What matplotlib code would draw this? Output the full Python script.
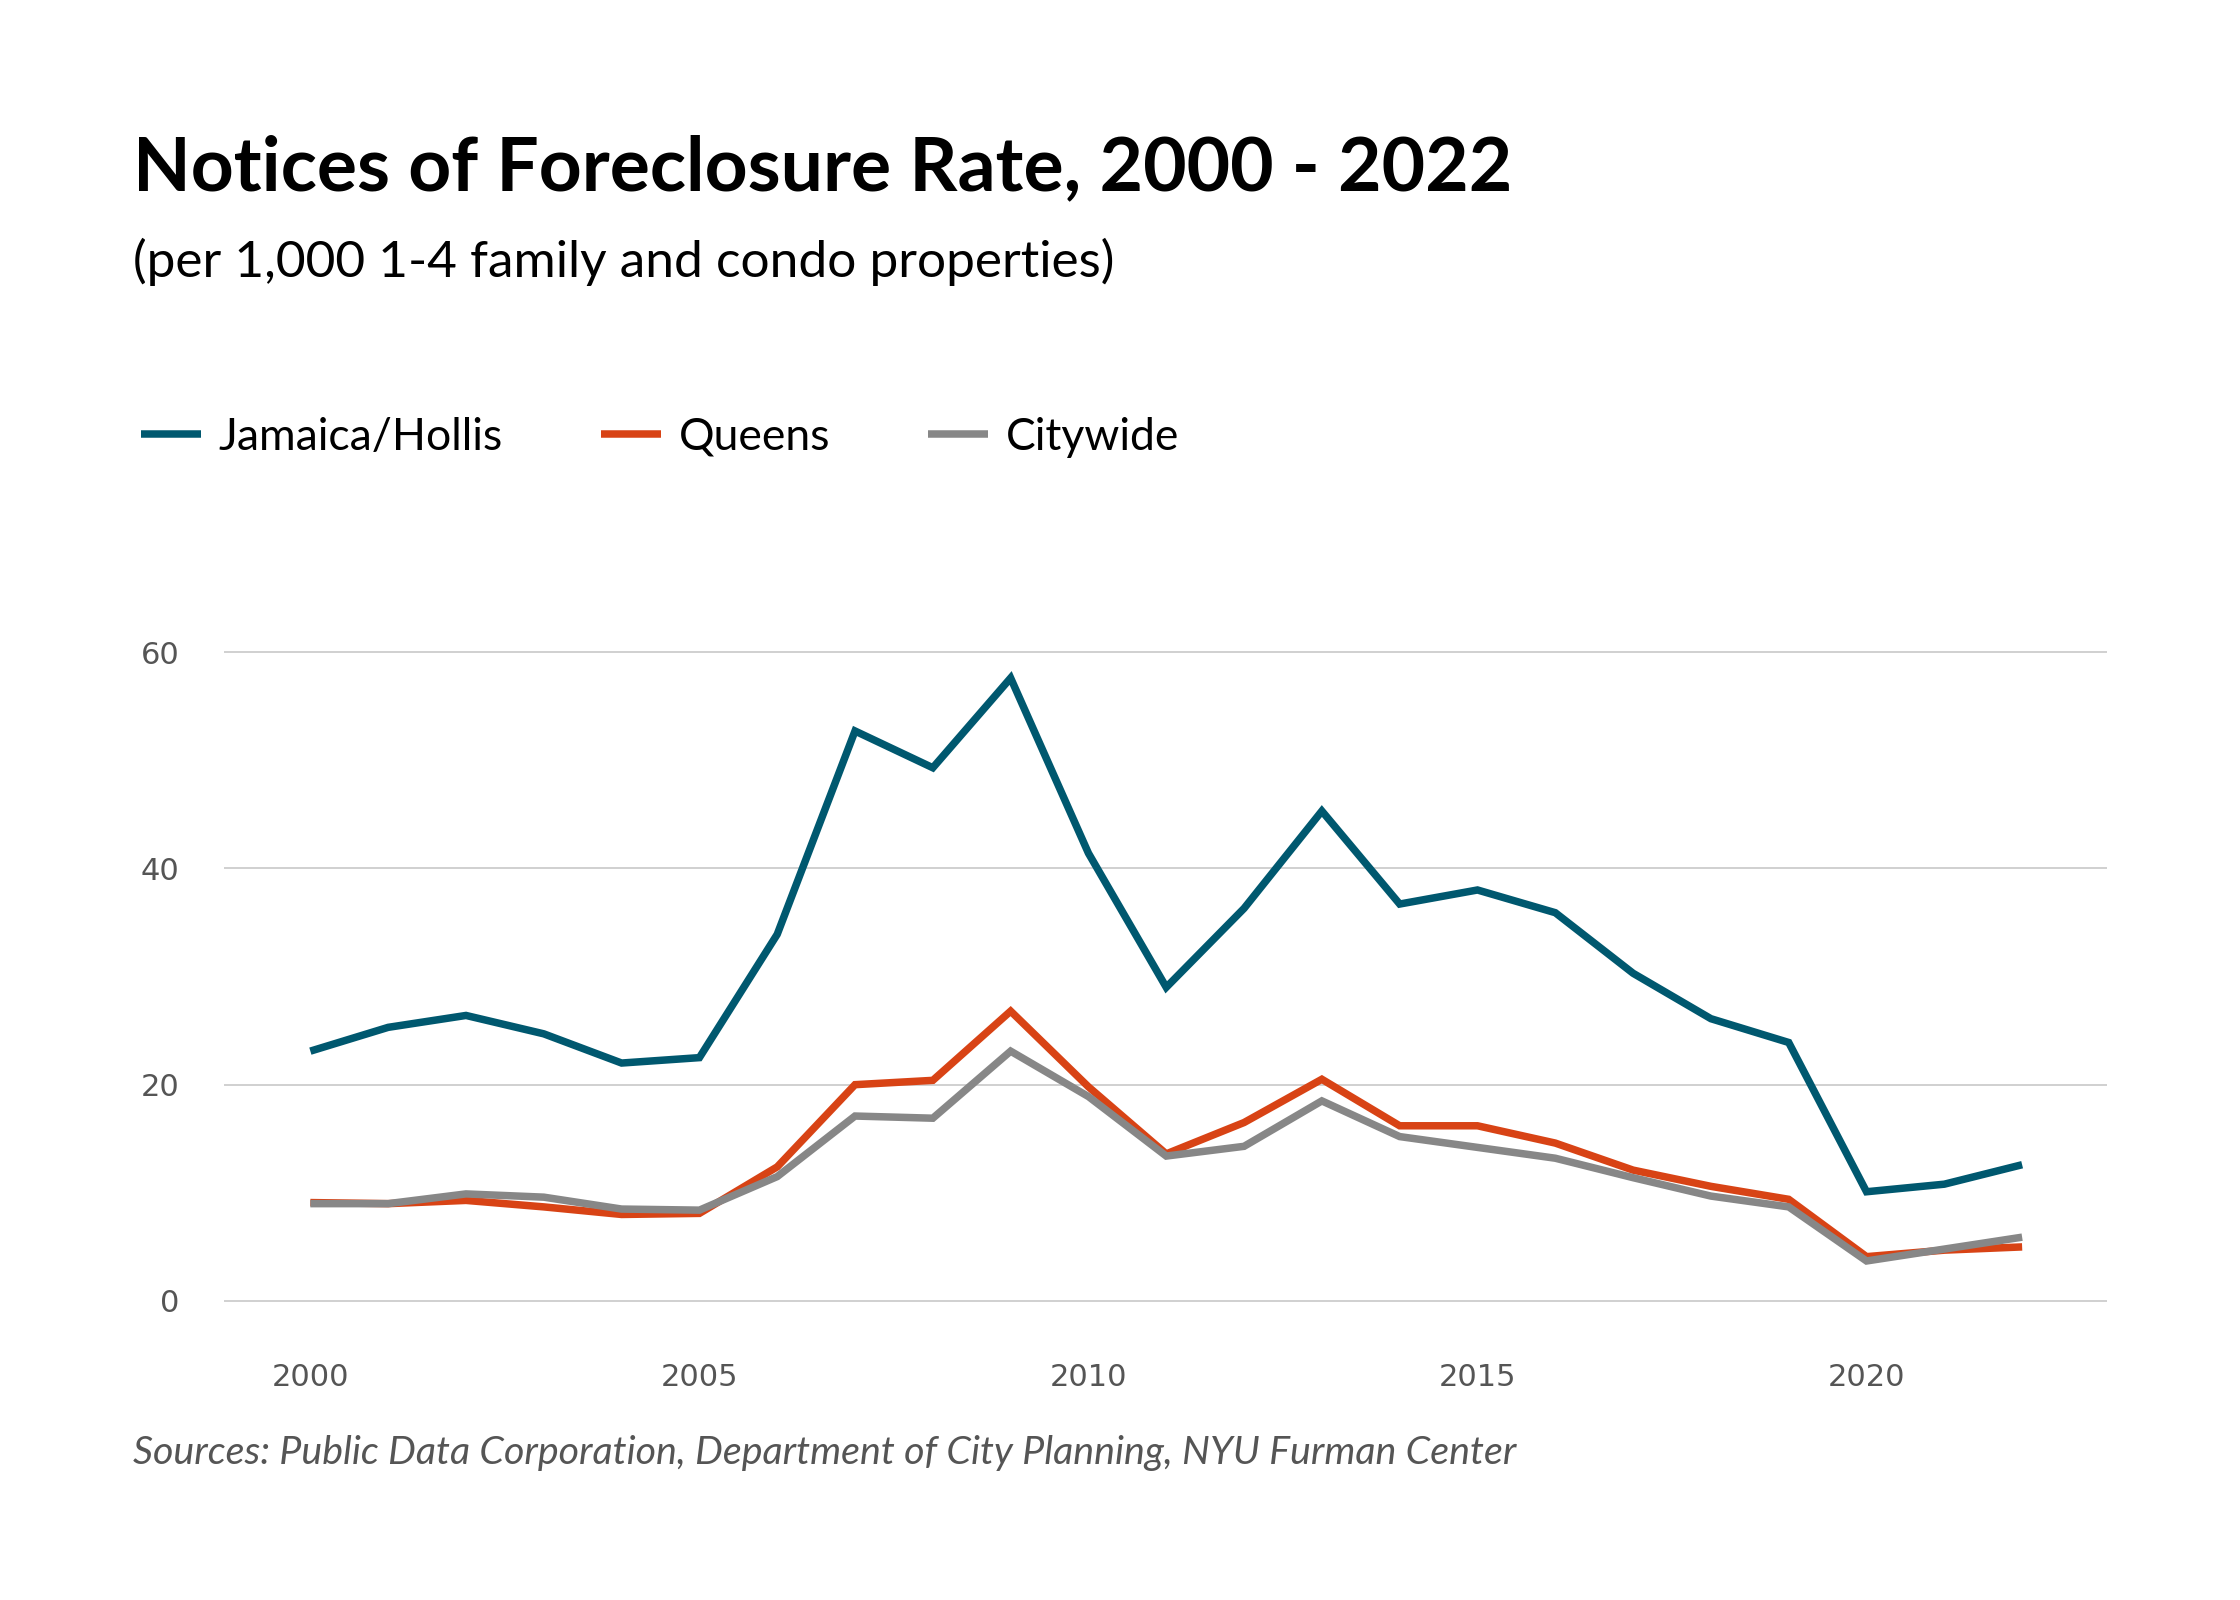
import matplotlib.pyplot as plt

years = list(range(2000, 2023))
jamaica = [23.1, 25.3, 26.4, 24.7, 22.0, 22.5, 33.9, 52.7, 49.3, 57.6, 41.4, 29.0,
           36.3, 45.3, 36.7, 38.0, 35.9, 30.3, 26.1, 23.9, 10.1, 10.8, 12.6]
queens = [9.1, 9.0, 9.3, 8.7, 8.0, 8.1, 12.4, 20.0, 20.4, 26.8, 19.8, 13.6,
          16.5, 20.5, 16.2, 16.2, 14.6, 12.1, 10.6, 9.4, 4.1, 4.7, 5.0]
citywide = [9.0, 9.0, 9.9, 9.6, 8.5, 8.4, 11.5, 17.1, 16.9, 23.1, 18.9, 13.4,
            14.3, 18.5, 15.2, 14.2, 13.2, 11.4, 9.7, 8.7, 3.7, 4.8, 5.9]
series_names = ["Jamaica/Hollis", "Queens", "Citywide"]
colors = ["#00586f", "#d84315", "#878787"]
y_ticks = [0, 20, 40, 60]
x_ticks = [2000, 2005, 2010, 2015, 2020]

title = "Notices of Foreclosure Rate, 2000 - 2022"
subtitle = "(per 1,000 1-4 family and condo properties)"
source = "Sources: Public Data Corporation, Department of City Planning, NYU Furman Center"

plt.rcParams['font.family'] = ['Lato', 'DejaVu Sans']

fig = plt.figure(figsize=(11.2, 8), dpi=200)
ax = fig.add_axes([0.1, 0.1666, 0.8406, 0.4394])

lines = []
for name, vals, col in zip(series_names, [jamaica, queens, citywide], colors):
    ln, = ax.plot(years, vals, color=col, lw=2.7, label=name,
                  solid_joinstyle='miter', solid_capstyle='butt')
    lines.append(ln)

ax.set_xlim(1998.89, 2023.09)
ax.set_ylim(-3, 62)
ax.set_yticks(y_ticks)
ax.set_xticks(x_ticks)
ax.grid(axis='y', color='#d0d0d0', lw=0.7)
ax.set_axisbelow(True)
for s in ax.spines.values():
    s.set_visible(False)
ax.tick_params(length=0, labelcolor='#555555')
for lab in ax.get_xticklabels() + ax.get_yticklabels():
    lab.set_family(['DejaVu Sans'])
    lab.set_fontsize(11)
ax.tick_params(axis='y', pad=16)
ax.tick_params(axis='x', pad=10.5)

fig.text(0.0595, 0.881, title, fontsize=27, fontweight='bold', color='black')
fig.text(0.0595, 0.827, subtitle, fontsize=18.5, color='black')
fig.text(0.0595, 0.085, source, fontsize=14.2, style='italic', color='#555555')

fig.legend(handles=lines, loc='center left', bbox_to_anchor=(0.063, 0.7268),
           ncol=3, frameon=False, fontsize=16, handlelength=1.35,
           handletextpad=0.4, columnspacing=2.2, borderpad=0, borderaxespad=0)

fig.savefig("out.png", dpi=200, facecolor='white')
